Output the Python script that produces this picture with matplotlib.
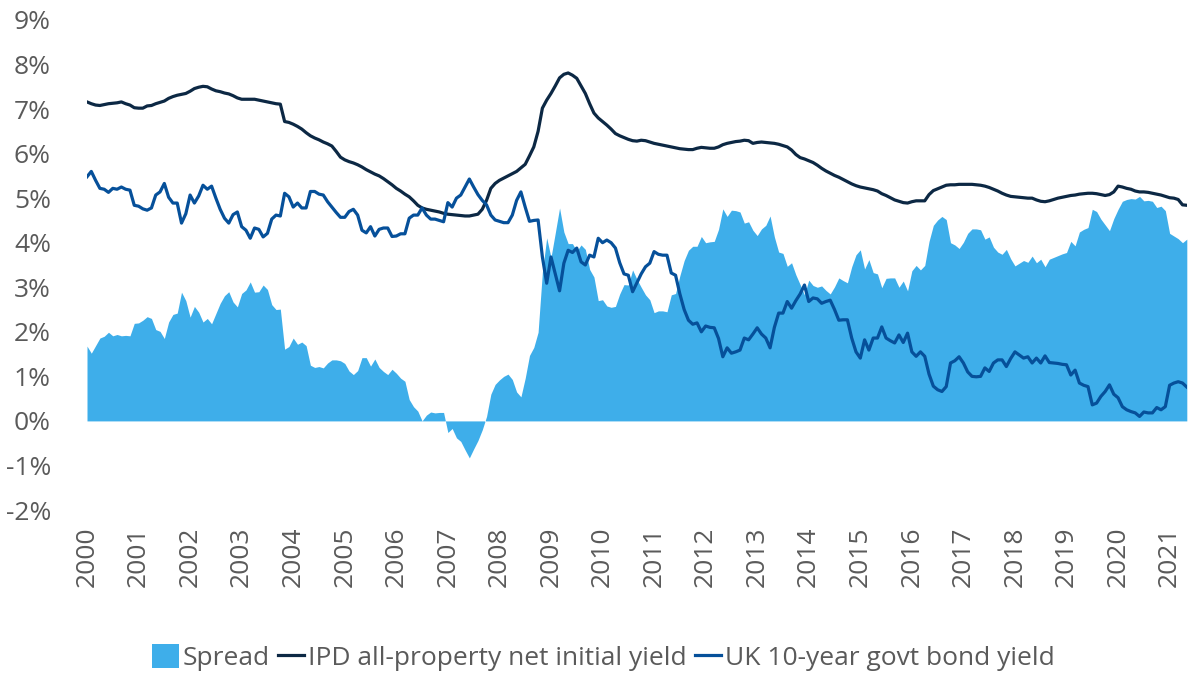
import numpy as np
import matplotlib.pyplot as plt

# monthly values, Jan 2000 .. May 2021 (percent)
ipd_yield = [
    7.16, 7.12, 7.09, 7.08, 7.10, 7.12, 7.13, 7.14, 7.16, 7.12, 7.09, 7.03,  # 2000
    7.02, 7.02, 7.07, 7.08, 7.12, 7.15, 7.18, 7.24, 7.28, 7.31, 7.33, 7.35,  # 2001
    7.40, 7.46, 7.49, 7.51, 7.50, 7.45, 7.41, 7.39, 7.36, 7.34, 7.30, 7.25,  # 2002
    7.22, 7.22, 7.22, 7.22, 7.20, 7.18, 7.16, 7.14, 7.12, 7.11, 6.72, 6.70,  # 2003
    6.66, 6.61, 6.55, 6.47, 6.40, 6.35, 6.31, 6.26, 6.22, 6.17, 6.05, 5.92,  # 2004
    5.86, 5.82, 5.79, 5.75, 5.70, 5.64, 5.59, 5.54, 5.50, 5.44, 5.37, 5.30,  # 2005
    5.22, 5.16, 5.09, 5.03, 4.94, 4.84, 4.78, 4.75, 4.73, 4.71, 4.69, 4.66,  # 2006
    4.64, 4.63, 4.62, 4.61, 4.60, 4.60, 4.62, 4.64, 4.75, 4.95, 5.22, 5.33,  # 2007
    5.40, 5.45, 5.50, 5.55, 5.60, 5.68, 5.76, 5.95, 6.15, 6.50, 7.02, 7.20,  # 2008
    7.35, 7.52, 7.70, 7.78, 7.81, 7.76, 7.69, 7.52, 7.35, 7.12, 6.91, 6.80,  # 2009
    6.72, 6.64, 6.55, 6.45, 6.40, 6.36, 6.32, 6.29, 6.28, 6.30, 6.29, 6.26,  # 2010
    6.23, 6.21, 6.19, 6.17, 6.15, 6.13, 6.11, 6.10, 6.09, 6.09, 6.12, 6.14,  # 2011
    6.13, 6.12, 6.12, 6.15, 6.20, 6.23, 6.25, 6.27, 6.28, 6.30, 6.29, 6.23,  # 2012
    6.25, 6.26, 6.25, 6.24, 6.23, 6.21, 6.18, 6.15, 6.08, 5.98, 5.91, 5.88,  # 2013
    5.84, 5.80, 5.74, 5.67, 5.61, 5.56, 5.51, 5.47, 5.42, 5.37, 5.32, 5.28,  # 2014
    5.25, 5.23, 5.21, 5.19, 5.16, 5.10, 5.06, 5.01, 4.96, 4.93, 4.90, 4.89,  # 2015
    4.92, 4.94, 4.94, 4.94, 5.08, 5.17, 5.21, 5.25, 5.29, 5.30, 5.30, 5.31,  # 2016
    5.31, 5.31, 5.31, 5.30, 5.29, 5.27, 5.24, 5.20, 5.16, 5.11, 5.07, 5.04,  # 2017
    5.03, 5.02, 5.01, 5.00, 5.00, 4.96, 4.93, 4.92, 4.94, 4.97, 5.00, 5.02,  # 2018
    5.04, 5.06, 5.07, 5.09, 5.10, 5.11, 5.11, 5.10, 5.08, 5.06, 5.08, 5.14,  # 2019
    5.27, 5.25, 5.22, 5.20, 5.16, 5.14, 5.14, 5.13, 5.11, 5.09, 5.07, 5.04,  # 2020
    5.01, 5.00, 4.97, 4.85, 4.84,                                            # 2021
]

gilt_yield = [
    5.48, 5.60, 5.40, 5.22, 5.20, 5.13, 5.22, 5.20, 5.25, 5.20, 5.18, 4.84,  # 2000
    4.82, 4.76, 4.73, 4.78, 5.07, 5.14, 5.33, 5.02, 4.89, 4.89, 4.44, 4.65,  # 2001
    5.07, 4.89, 5.05, 5.29, 5.20, 5.27, 5.00, 4.75, 4.55, 4.44, 4.63, 4.69,  # 2002
    4.36, 4.28, 4.10, 4.33, 4.30, 4.13, 4.21, 4.53, 4.62, 4.60, 5.11, 5.03,  # 2003
    4.80, 4.89, 4.78, 4.78, 5.15, 5.15, 5.09, 5.07, 4.92, 4.80, 4.68, 4.57,  # 2004
    4.57, 4.70, 4.75, 4.62, 4.28, 4.22, 4.36, 4.15, 4.30, 4.33, 4.33, 4.14,  # 2005
    4.15, 4.20, 4.20, 4.55, 4.62, 4.62, 4.78, 4.62, 4.53, 4.53, 4.50, 4.47,  # 2006
    4.90, 4.80, 5.00, 5.07, 5.25, 5.43, 5.25, 5.08, 4.95, 4.85, 4.62, 4.51,  # 2007
    4.48, 4.45, 4.45, 4.62, 4.95, 5.14, 4.80, 4.48, 4.50, 4.51, 3.68, 3.09,  # 2008
    3.68, 3.30, 2.92, 3.54, 3.83, 3.78, 3.88, 3.57, 3.50, 3.72, 3.68, 4.10,  # 2009
    4.00, 4.06, 4.00, 3.88, 3.55, 3.30, 3.27, 2.90, 3.10, 3.30, 3.46, 3.54,  # 2010
    3.80, 3.74, 3.72, 3.72, 3.32, 3.27, 2.85, 2.50, 2.26, 2.17, 2.20, 2.00,  # 2011
    2.13, 2.10, 2.09, 1.85, 1.44, 1.64, 1.52, 1.55, 1.59, 1.86, 1.82, 1.95,  # 2012
    2.09, 1.95, 1.86, 1.64, 2.10, 2.42, 2.42, 2.68, 2.53, 2.70, 2.85, 3.05,  # 2013
    2.68, 2.76, 2.74, 2.64, 2.68, 2.71, 2.50, 2.26, 2.27, 2.27, 1.86, 1.55,  # 2014
    1.41, 1.82, 1.59, 1.86, 1.86, 2.11, 1.86, 1.80, 1.75, 1.93, 1.76, 1.97,  # 2015
    1.55, 1.45, 1.55, 1.45, 1.05, 0.78, 0.70, 0.66, 0.77, 1.30, 1.35, 1.44,  # 2016
    1.30, 1.10, 1.00, 0.99, 1.00, 1.19, 1.11, 1.30, 1.37, 1.37, 1.22, 1.40,  # 2017
    1.55, 1.48, 1.41, 1.44, 1.30, 1.41, 1.30, 1.46, 1.31, 1.30, 1.29, 1.27,  # 2018
    1.26, 1.03, 1.14, 0.85, 0.80, 0.77, 0.36, 0.40, 0.55, 0.66, 0.81, 0.60,  # 2019
    0.52, 0.32, 0.25, 0.21, 0.18, 0.10, 0.20, 0.18, 0.18, 0.30, 0.25, 0.32,  # 2020
    0.80, 0.85, 0.88, 0.85, 0.76,                                            # 2021
]

years = list(range(2000, 2022))
y_ticks = list(range(-2, 10))

ipd = np.array(ipd_yield)
gilt = np.array(gilt_yield)
spread = ipd - gilt
t = 2000 + np.arange(len(ipd)) / 12

plt.rcParams['font.family'] = ['Open Sans', 'DejaVu Sans']
grey = '#5a5a5a'

fig = plt.figure(figsize=(12, 6.88), dpi=100)
ax = fig.add_axes([0.0725, 0.2587, 0.9165, 0.7123])

ax.fill_between(t, 0, spread, color='#3eaeea', linewidth=0, label='Spread')
ax.plot(t, ipd, color='#0c2844', lw=2.3, label='IPD all-property net initial yield')
ax.plot(t, gilt, color='#06509a', lw=2.3, label='UK 10-year govt bond yield')

ax.set_xlim(t[0], t[-1])
ax.set_ylim(-2, 9)
ax.set_yticks(y_ticks)
ax.set_yticklabels([f'{v}%' for v in y_ticks])
ax.set_xticks(years)
ax.set_xticklabels([str(y) for y in years], rotation=90)
ax.tick_params(length=0, labelsize=19, colors=grey)
ax.tick_params(axis='y', pad=26)
ax.tick_params(axis='x', pad=12)
for s in ax.spines.values():
    s.set_visible(False)

fig.legend(loc='center', bbox_to_anchor=(0.503, 0.044), ncol=3, frameon=False,
           fontsize=19, labelcolor=grey, handlelength=1.0, handleheight=1.0,
           handletextpad=0.15, columnspacing=0.3, borderpad=0)

fig.savefig('out.png', dpi=100)
